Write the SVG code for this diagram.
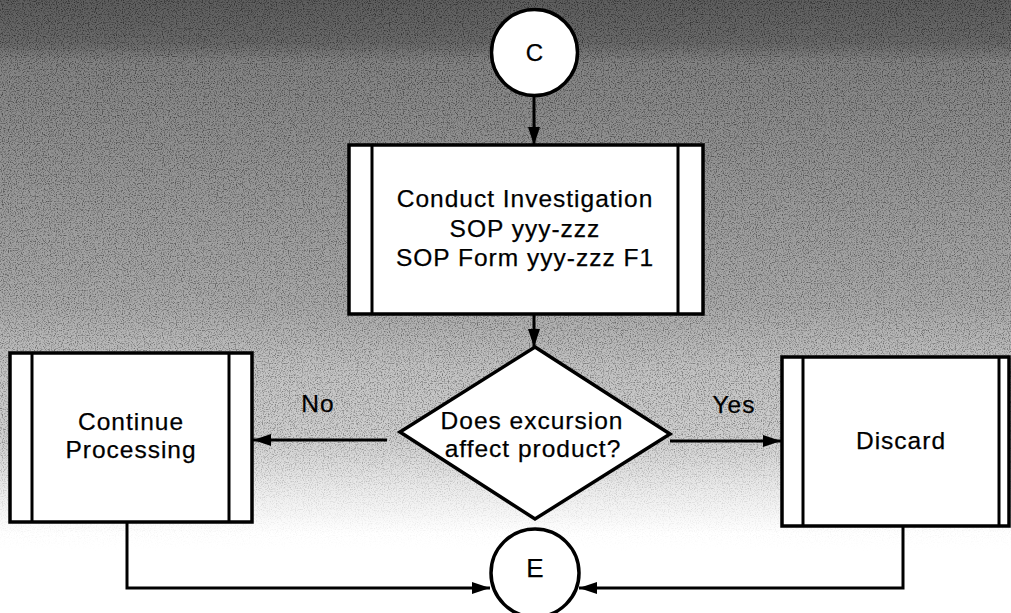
<svg xmlns="http://www.w3.org/2000/svg" width="1011" height="613" viewBox="0 0 1011 613">
  <style>
    .shape { fill: #ffffff; stroke: #000000; stroke-width: 3.5; }
    .bar { fill: none; stroke: #000000; stroke-width: 3; }
    .conn { fill: none; stroke: #000000; stroke-width: 3; }
    .txt { font-family: "Liberation Sans", Arial, Helvetica, sans-serif; font-size: 24.5px; fill: #000000; stroke: #000000; stroke-width: 0.25px; text-anchor: middle; letter-spacing: 1px; }
    .lbl { font-family: "Liberation Sans", Arial, Helvetica, sans-serif; font-size: 24px; fill: #000000; stroke: #000000; stroke-width: 0.25px; text-anchor: middle; }
  </style>
  <defs>
    <linearGradient id="bgGrad" x1="0" y1="0" x2="0" y2="1">
      <stop offset="0" stop-color="#5e5e5e"/>
      <stop offset="0.07" stop-color="#6a6a6a"/>
      <stop offset="0.1" stop-color="#838383"/>
      <stop offset="0.3" stop-color="#979797"/>
      <stop offset="0.5" stop-color="#aaaaaa"/>
      <stop offset="0.6" stop-color="#c2c2c2"/>
      <stop offset="0.72" stop-color="#d0d0d0"/>
      <stop offset="0.8" stop-color="#ececec"/>
      <stop offset="0.87" stop-color="#ffffff"/>
    </linearGradient>
    <linearGradient id="maskGrad" x1="0" y1="0" x2="0" y2="1">
      <stop offset="0" stop-color="#ffffff"/>
      <stop offset="0.7" stop-color="#bbbbbb"/>
      <stop offset="0.82" stop-color="#333333"/>
      <stop offset="0.9" stop-color="#000000"/>
    </linearGradient>
    <mask id="grainMask" maskUnits="userSpaceOnUse" x="0" y="0" width="1011" height="613">
      <rect x="0" y="0" width="1011" height="613" fill="url(#maskGrad)"/>
    </mask>
    <filter id="grain" x="0" y="0" width="100%" height="100%" filterUnits="userSpaceOnUse">
      <feTurbulence type="fractalNoise" baseFrequency="0.85" numOctaves="2" seed="7" result="n"/>
      <feColorMatrix in="n" type="matrix" values="0 0 0 0 0  0 0 0 0 0  0 0 0 0 0  0 0 0 -3 1.6"/>
    </filter>
    <marker id="arrow" viewBox="0 0 18 12" refX="18" refY="6" markerWidth="18" markerHeight="12" markerUnits="userSpaceOnUse" orient="auto">
      <path d="M0,0 L18,6 L0,12 Z" fill="#000000"/>
    </marker>
  </defs>

  <!-- background halftone -->
  <rect x="0" y="0" width="1011" height="613" fill="url(#bgGrad)"/>
  <g mask="url(#grainMask)" opacity="0.5">
    <rect x="0" y="0" width="1011" height="613" fill="#ffffff" filter="url(#grain)"/>
  </g>

  <g id="connectors">
    <line class="conn" x1="534" y1="96" x2="534" y2="145" marker-end="url(#arrow)"/>
    <line class="conn" x1="534" y1="315" x2="534" y2="347" marker-end="url(#arrow)"/>
    <line class="conn" x1="387" y1="440" x2="253" y2="440" marker-end="url(#arrow)"/>
    <line class="conn" x1="670" y1="441" x2="781" y2="441" marker-end="url(#arrow)"/>
    <polyline class="conn" points="127,522 127,588 490,588" marker-end="url(#arrow)"/>
    <polyline class="conn" points="903,526 903,588 579,588" marker-end="url(#arrow)"/>
  </g>

  <g id="node-c">
    <circle class="shape" cx="534.5" cy="52.5" r="43"/>
    <text class="lbl" x="534.5" y="61">C</text>
  </g>

  <g id="node-investigate">
    <rect class="shape" x="349" y="145" width="354" height="169"/>
    <line class="bar" x1="372" y1="145" x2="372" y2="314"/>
    <line class="bar" x1="678" y1="145" x2="678" y2="314"/>
    <text class="txt" x="525" y="207">Conduct Investigation</text>
    <text class="txt" x="525" y="237">SOP yyy-zzz</text>
    <text class="txt" x="525" y="266">SOP Form yyy-zzz F1</text>
  </g>

  <g id="node-decision">
    <polygon class="shape" points="535,347 670,434 535,519 400,432"/>
    <text class="txt" x="532" y="429">Does excursion</text>
    <text class="txt" x="533" y="457">affect product?</text>
  </g>

  <g id="node-continue">
    <rect class="shape" x="10" y="353" width="242" height="169"/>
    <line class="bar" x1="32" y1="353" x2="32" y2="522"/>
    <line class="bar" x1="229" y1="353" x2="229" y2="522"/>
    <text class="txt" x="131" y="430">Continue</text>
    <text class="txt" x="131" y="458">Processing</text>
  </g>

  <g id="node-discard">
    <rect class="shape" x="782" y="357" width="227" height="169"/>
    <line class="bar" x1="803" y1="357" x2="803" y2="526"/>
    <line class="bar" x1="999" y1="357" x2="999" y2="526"/>
    <text class="txt" x="901" y="449">Discard</text>
  </g>

  <g id="node-e">
    <circle class="shape" cx="535" cy="573" r="44"/>
    <text class="lbl" x="535" y="577" style="font-size:26px">E</text>
  </g>

  <g id="edge-labels">
    <text class="txt" x="318" y="412">No</text>
    <text class="txt" x="734" y="413">Yes</text>
  </g>
</svg>
